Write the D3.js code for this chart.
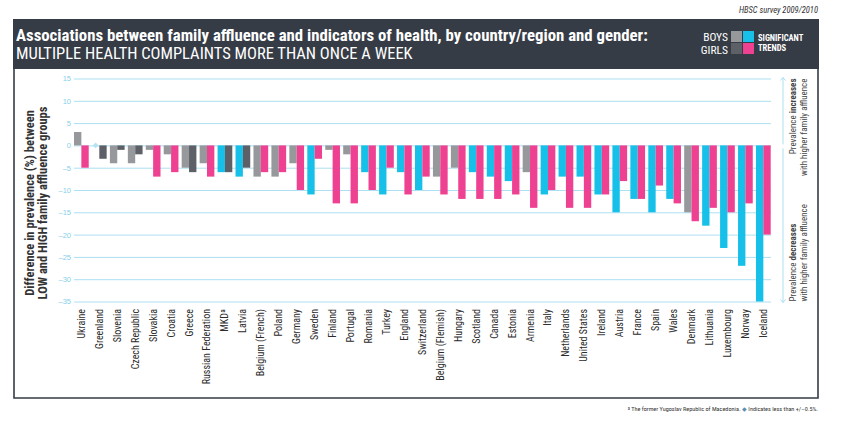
<!DOCTYPE html>
<html>
<head>
<meta charset="utf-8">
<script src="https://cdn.jsdelivr.net/npm/d3@7"></script>
<style>
  html, body { margin: 0; padding: 0; background: #fff; }
  svg { display: block; }
  text { font-family: "Liberation Sans Narrow", "Arial Narrow", "Roboto Condensed", "Liberation Sans", sans-serif; }
</style>
</head>
<body>
<svg id="chart" width="848" height="434"></svg>
<script>
const countries = ["Ukraine","Greenland","Slovenia","Czech Republic","Slovakia","Croatia","Greece","Russian Federation","MKDª","Latvia","Belgium (French)","Poland","Germany","Sweden","Finland","Portugal","Romania","Turkey","England","Switzerland","Belgium (Flemish)","Hungary","Scotland","Canada","Estonia","Armenia","Italy","Netherlands","United States","Ireland","Austria","France","Spain","Wales","Denmark","Lithuania","Luxembourg","Norway","Iceland"];
const boys = [3,0,-4,-4,-1,-2,-5,-4,-6,-7,-7,-7,-4,-11,-1,-2,-6,-11,-6,-10,-7,-5,-6,-7,-8,-6,-11,-7,-7,-11,-15,-12,-15,-12,-15,-18,-23,-27,-35];
const boysSig = [0,0,0,0,0,0,0,0,1,1,0,0,0,1,0,0,1,1,1,1,0,0,1,1,1,0,1,1,1,1,1,1,1,1,0,1,1,1,1];
const girls = [-5,-3,-1,-2,-7,-6,-6,-7,-6,-5,-6,-6,-10,-3,-13,-13,-10,-5,-11,-7,-11,-12,-12,-12,-11,-14,-10,-14,-14,-11,-8,-12,-9,-13,-17,-14,-15,-13,-20];
const girlsSig = [1,0,0,0,1,1,0,1,0,0,1,1,1,1,1,1,1,1,1,1,1,1,1,1,1,1,1,1,1,1,1,1,1,1,1,1,1,1,1];
const yTicks = [15,10,5,0,-5,-10,-15,-20,-25,-30,-35];

const colBoy = "#97989c", colBoySig = "#17c0e8";
const colGirl = "#5e6068", colGirlSig = "#ee4191";
const gridCol = "#acdff1", tickCol = "#86cfea";

const svg = d3.select("#chart");

// Header
svg.append("text").attr("x", 818).attr("y", 13).attr("text-anchor", "end")
  .attr("font-size", 8.5).attr("font-style", "italic").attr("fill", "#333").text("HBSC survey 2009/2010");
svg.append("rect").attr("x", 13).attr("y", 19).attr("width", 806).attr("height", 50).attr("fill", "#363c46");
svg.append("text").attr("x", 16).attr("y", 41).attr("font-size", 16.8).attr("font-weight", "bold").attr("fill", "#fff")
  .text("Associations between family affluence and indicators of health, by country/region and gender:");
svg.append("text").attr("x", 16).attr("y", 59).attr("font-size", 16.5).attr("fill", "#fff")
  .text("MULTIPLE HEALTH COMPLAINTS MORE THAN ONCE A WEEK");

// Legend
const lg = svg.append("g");
lg.append("text").attr("x", 728).attr("y", 41).attr("text-anchor", "end").attr("font-size", 11.5).attr("fill", "#fff").text("BOYS");
lg.append("text").attr("x", 728).attr("y", 54).attr("text-anchor", "end").attr("font-size", 11.5).attr("fill", "#fff").text("GIRLS");
lg.append("rect").attr("x", 731).attr("y", 31).attr("width", 11).attr("height", 11).attr("fill", colBoy);
lg.append("rect").attr("x", 743).attr("y", 31).attr("width", 11).attr("height", 11).attr("fill", colBoySig);
lg.append("rect").attr("x", 731).attr("y", 43).attr("width", 11).attr("height", 11).attr("fill", colGirl);
lg.append("rect").attr("x", 743).attr("y", 43).attr("width", 11).attr("height", 11).attr("fill", colGirlSig);
lg.append("text").attr("x", 758).attr("y", 41).attr("font-size", 8.5).attr("font-weight", "bold").attr("fill", "#fff").text("SIGNIFICANT");
lg.append("text").attr("x", 758).attr("y", 51).attr("font-size", 8.5).attr("font-weight", "bold").attr("fill", "#fff").text("TRENDS");

// Frame
svg.append("path").attr("d", "M14,69 V398 H818 V69").attr("fill", "none").attr("stroke", "#363c46").attr("stroke-width", 1.6);

// Scales
const y = d3.scaleLinear().domain([-35, 15]).range([301.5, 78.5]);
const x0 = d3.scaleBand().domain(countries).range([74, 770.7]).paddingInner(0.18).paddingOuter(0);
const x1 = d3.scaleBand().domain(["boy", "girl"]).range([0, x0.bandwidth()]);

// Grid + tick labels via axis
const yAxis = d3.axisLeft(y).tickValues(yTicks).tickSize(-(771 - 74)).tickPadding(3)
  .tickFormat(d => d < 0 ? "–" + Math.abs(d) : d);
const ga = svg.append("g").attr("transform", "translate(74,0)").call(yAxis);
ga.select(".domain").remove();
ga.selectAll(".tick line").attr("stroke", gridCol).attr("stroke-width", 1);
ga.selectAll(".tick text").attr("fill", tickCol).attr("font-size", 7.5)
  .style("font-family", "'Liberation Sans Narrow','Arial Narrow',sans-serif");

// Bars
const rows = countries.map((c, i) => ({ c, i }));
const g = svg.append("g");
rows.forEach(({ c, i }) => {
  const series = [
    { k: "boy", v: boys[i], col: boysSig[i] ? colBoySig : colBoy },
    { k: "girl", v: girls[i], col: girlsSig[i] ? colGirlSig : colGirl }
  ];
  series.forEach(s => {
    const bx = x0(c) + x1(s.k);
    if (Math.abs(s.v) < 0.5) {
      const cx = bx + x1.bandwidth() / 2, cy = y(0);
      g.append("path").attr("d", d3.symbol(d3.symbolDiamond2, 22)()).attr("transform", `translate(${cx},${cy})`)
        .attr("fill", "#b5e3f3");
    } else {
      g.append("rect").attr("x", bx).attr("width", x1.bandwidth())
        .attr("y", y(Math.max(0, s.v))).attr("height", Math.abs(y(s.v) - y(0)))
        .attr("fill", s.col);
    }
  });
});

// X labels
const xl = svg.append("g");
countries.forEach(c => {
  const cx = x0(c) + x0.bandwidth() / 2;
  xl.append("text").attr("transform", `translate(${cx},309) rotate(-90)`)
    .attr("text-anchor", "end").attr("dy", "0.35em").attr("font-size", 10).attr("fill", "#2b2b2b").text(c);
});

// Y title
const yt = svg.append("text").attr("transform", "translate(34,203) rotate(-90)").attr("text-anchor", "middle")
  .attr("font-size", 12.5).attr("font-weight", "bold").attr("fill", "#333");
yt.append("tspan").attr("x", 0).attr("dy", 0).text("Difference in prevalence (%) between");
yt.append("tspan").attr("x", 0).attr("dy", 12.5).text("LOW and HIGH family affluence groups");

// Right annotation arrows
const ax = 783;
const ar = svg.append("g").attr("stroke", gridCol).attr("fill", "none").attr("stroke-width", 1);
ar.append("line").attr("x1", ax).attr("x2", ax).attr("y1", y(15) - 1).attr("y2", y(0) - 1);
ar.append("path").attr("d", `M${ax - 2.5},${y(15) + 2} L${ax},${y(15) - 1} L${ax + 2.5},${y(15) + 2}`);
ar.append("line").attr("x1", ax).attr("x2", ax).attr("y1", y(0) + 3).attr("y2", y(-35) + 1);
ar.append("path").attr("d", `M${ax - 2.5},${y(-35) - 2} L${ax},${y(-35) + 1} L${ax + 2.5},${y(-35) - 2}`);

const at1 = svg.append("text").attr("transform", `translate(796,${y(15)}) rotate(-90)`).attr("text-anchor", "end")
  .attr("font-size", 9).attr("fill", "#444");
at1.append("tspan").text("Prevalence ");
at1.append("tspan").attr("font-weight", "bold").text("increases");
svg.append("text").attr("transform", `translate(807,${y(15)}) rotate(-90)`).attr("text-anchor", "end")
  .attr("font-size", 9).attr("fill", "#444").text("with higher family affluence");
const at2 = svg.append("text").attr("transform", `translate(796,${y(-35)}) rotate(-90)`).attr("text-anchor", "start")
  .attr("font-size", 9).attr("fill", "#444");
at2.append("tspan").text("Prevalence ");
at2.append("tspan").attr("font-weight", "bold").text("decreases");
svg.append("text").attr("transform", `translate(807,${y(-35)}) rotate(-90)`).attr("text-anchor", "start")
  .attr("font-size", 9).attr("fill", "#444").text("with higher family affluence");

// Footnote
const fn = svg.append("text").attr("x", 818).attr("y", 411).attr("text-anchor", "end").attr("font-size", 6.2).attr("fill", "#333");
fn.append("tspan").attr("font-size", 4.5).attr("dy", -1.5).text("a");
fn.append("tspan").attr("dy", 1.5).text(" The former Yugoslav Republic of Macedonia. ");
fn.append("tspan").attr("fill", "#5a8fb0").text("◆");
fn.append("tspan").text(" Indicates less than +/–0.5%.");
</script>
</body>
</html>
